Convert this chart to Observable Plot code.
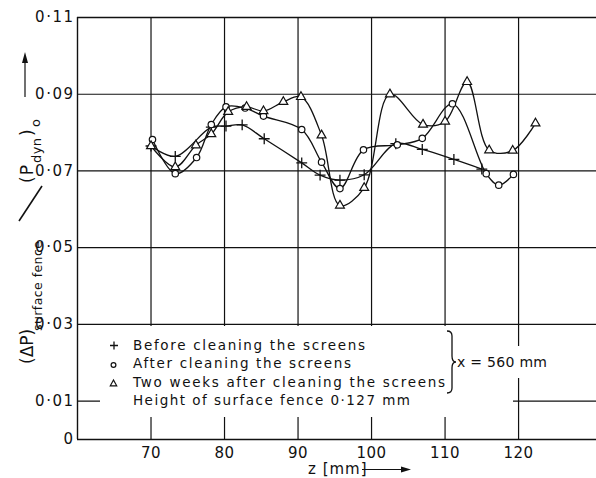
<!DOCTYPE html>
<html>
<head>
<meta charset="utf-8">
<script src="https://cdn.jsdelivr.net/npm/d3@7"></script>
<script src="https://cdn.jsdelivr.net/npm/@observablehq/plot@0.6"></script>
<style>
  html, body { margin: 0; padding: 0; background: #fff; }
  #chart svg { display: block; font-family: "DejaVu Sans", sans-serif; }
  #chart g[aria-label="y-axis tick label"] text { letter-spacing: 1.5px; }
  #chart g[aria-label="x-axis tick label"] text { letter-spacing: 0.5px; }
</style>
</head>
<body>
<div id="chart"></div>
<script>
// ---- data ----
const xTicks = [70, 80, 90, 100, 110, 120];
const yGrid = [0.01, 0.03, 0.05, 0.07, 0.09];
const yTicks = [0, 0.01, 0.03, 0.05, 0.07, 0.09, 0.11];
const yTickLabels = ["0", "0·01", "0·03", "0·05", "0·07", "0·09", "0·11"];

const zBefore = [70, 73.3, 78.2, 80.2, 82.4, 85.4, 90.5, 93, 95.7, 99, 103.3, 106.9, 111.2, 115];
const vBefore = [0.0765, 0.0738, 0.0814, 0.0817, 0.082, 0.0784, 0.0721, 0.0689, 0.0676, 0.069, 0.0771, 0.0756, 0.073, 0.0705];

const zAfter = [70.2, 73.3, 76.2, 78.2, 80.2, 82.8, 85.3, 90.5, 93.2, 95.7, 98.9, 103.5, 106.9, 111, 115.6, 117.3, 119.3];
const vAfter = [0.0782, 0.0693, 0.0735, 0.0821, 0.0867, 0.0864, 0.0843, 0.0808, 0.0723, 0.0654, 0.0755, 0.0768, 0.0785, 0.0875, 0.0693, 0.0663, 0.0691];

const zWeeks = [70, 73.3, 76.1, 78.2, 80.5, 83, 85.3, 88, 90.4, 93.2, 95.7, 99, 102.5, 107, 110, 113, 116, 119.2, 122.3];
const vWeeks = [0.0765, 0.071, 0.0767, 0.0796, 0.0854, 0.0867, 0.0856, 0.088, 0.0893, 0.0793, 0.061, 0.0656, 0.090, 0.0821, 0.0829, 0.0932, 0.0754, 0.0753, 0.0824];

const legendLabels = [
  "Before cleaning the screens",
  "After cleaning the screens",
  "Two weeks after cleaning the screens",
  "Height of surface fence 0·127 mm"
];
const bracketLabel = "x = 560 mm";

const toRows = (zs, vs) => zs.map((z, i) => ({z, v: vs[i]}));
const before = toRows(zBefore, vBefore);
const after = toRows(zAfter, vAfter);
const weeks = toRows(zWeeks, vWeeks);

const ink = "#111";

const chart = Plot.plot({
  width: 596,
  height: 478,
  marginLeft: 77,
  marginRight: 0,
  marginTop: 17,
  marginBottom: 39,
  style: {fontSize: "15px", fontFamily: "DejaVu Sans, sans-serif", color: ink, background: "#fff"},
  x: {domain: [60, 130.6]},
  y: {domain: [0, 0.11]},
  marks: [
    Plot.ruleX(xTicks, {stroke: ink, strokeWidth: 1.2}),
    Plot.ruleY(yGrid, {stroke: ink, strokeWidth: 1.2}),
    Plot.ruleY([0, 0.11], {stroke: ink, strokeWidth: 1.4}),
    Plot.ruleX([60], {stroke: ink, strokeWidth: 1.4}),
    Plot.axisX(xTicks, {tickSize: 0, tickPadding: 8, label: null, fontSize: 15}),
    Plot.axisY(yTicks, {tickSize: 0, tickPadding: 3, label: null, fontSize: 15,
      tickFormat: d => yTickLabels[yTicks.indexOf(d)]}),
    Plot.line(before, {x: "z", y: "v", curve: "catmull-rom", stroke: ink, strokeWidth: 1.3}),
    Plot.line(after, {x: "z", y: "v", curve: "catmull-rom", stroke: ink, strokeWidth: 1.3}),
    Plot.line(weeks, {x: "z", y: "v", curve: "catmull-rom", stroke: ink, strokeWidth: 1.3}),
    Plot.dot(before, {x: "z", y: "v", symbol: "plus", r: 3.6, stroke: ink, strokeWidth: 1.3}),
    Plot.dot(after, {x: "z", y: "v", symbol: "circle", r: 3.2, stroke: ink, fill: "#fff", strokeWidth: 1.2}),
    Plot.dot(weeks, {x: "z", y: "v", symbol: "triangle", r: 3.3, stroke: ink, fill: "#fff", strokeWidth: 1.2})
  ]
});
document.getElementById("chart").appendChild(chart);

// ---- annotations: legend box, bracket, axis titles ----
const svg = d3.select(chart);
const ann = svg.append("g").attr("fill", ink).attr("text-anchor", "start")
  .style("font-family", "DejaVu Sans, sans-serif");

ann.append("rect").attr("x", 100).attr("y", 326).attr("width", 413).attr("height", 91).attr("fill", "#fff");
ann.append("rect").attr("x", 455).attr("y", 346).attr("width", 95).attr("height", 32).attr("fill", "#fff");

const lx = 133, lys = [350, 368, 387, 405], lens = [232, 218, 312, 277];
legendLabels.forEach((t, i) => {
  ann.append("text").attr("x", lx).attr("y", lys[i]).attr("font-size", 13.5)
    .attr("textLength", lens[i]).attr("lengthAdjust", "spacing").text(t);
});
// legend symbols
ann.append("path").attr("d", "M110,345.5h8M114,341.5v8").attr("stroke", ink).attr("stroke-width", 1.3).attr("fill", "none");
ann.append("circle").attr("cx", 113.5).attr("cy", 365).attr("r", 2.4).attr("stroke", ink).attr("stroke-width", 1.2).attr("fill", "#fff");
ann.append("path").attr("d", "M113.5,380l3.2,5.8h-6.4z").attr("stroke", ink).attr("stroke-width", 1.2).attr("fill", "#fff");
// brace
ann.append("path")
  .attr("d", "M447,331 q5,0 5,5 v20 q0,6 4,6 q-4,0 -4,6 v20 q0,5 -5,5")
  .attr("stroke", ink).attr("stroke-width", 1.3).attr("fill", "none");
ann.append("text").attr("x", 457).attr("y", 367).attr("font-size", 14)
  .attr("textLength", 90).attr("lengthAdjust", "spacing").text(bracketLabel);

// x title
ann.append("text").attr("x", 308).attr("y", 474).attr("font-size", 15).attr("letter-spacing", 1).text("z [mm]");
ann.append("path").attr("d", "M362,469.5H402").attr("stroke", ink).attr("stroke-width", 1.2);
ann.append("path").attr("d", "M411,469.5l-10,-3v6z");

// y title (rotated pieces)
const rot = (x, y) => `translate(${x},${y}) rotate(-90)`;
ann.append("text").attr("transform", rot(33, 364)).attr("font-size", 17).text("(ΔP)");
ann.append("text").attr("transform", rot(42, 331)).attr("font-size", 12.5)
  .attr("textLength", 90).attr("lengthAdjust", "spacing").text("surface fence");
ann.append("path").attr("d", "M19,221L42,186").attr("stroke", ink).attr("stroke-width", 1.6).attr("fill", "none");
ann.append("text").attr("transform", rot(33, 183)).attr("font-size", 17).attr("letter-spacing", 1).text("(P");
ann.append("text").attr("transform", rot(41, 163)).attr("font-size", 13)
  .attr("textLength", 25).attr("lengthAdjust", "spacing").text("dyn");
ann.append("text").attr("transform", rot(33, 136)).attr("font-size", 17).text(")");
ann.append("text").attr("transform", rot(40, 127)).attr("font-size", 13).text("o");
ann.append("path").attr("d", "M25,97V62").attr("stroke", ink).attr("stroke-width", 1.2);
ann.append("path").attr("d", "M25,52l-3,11h6z");
</script>
</body>
</html>
